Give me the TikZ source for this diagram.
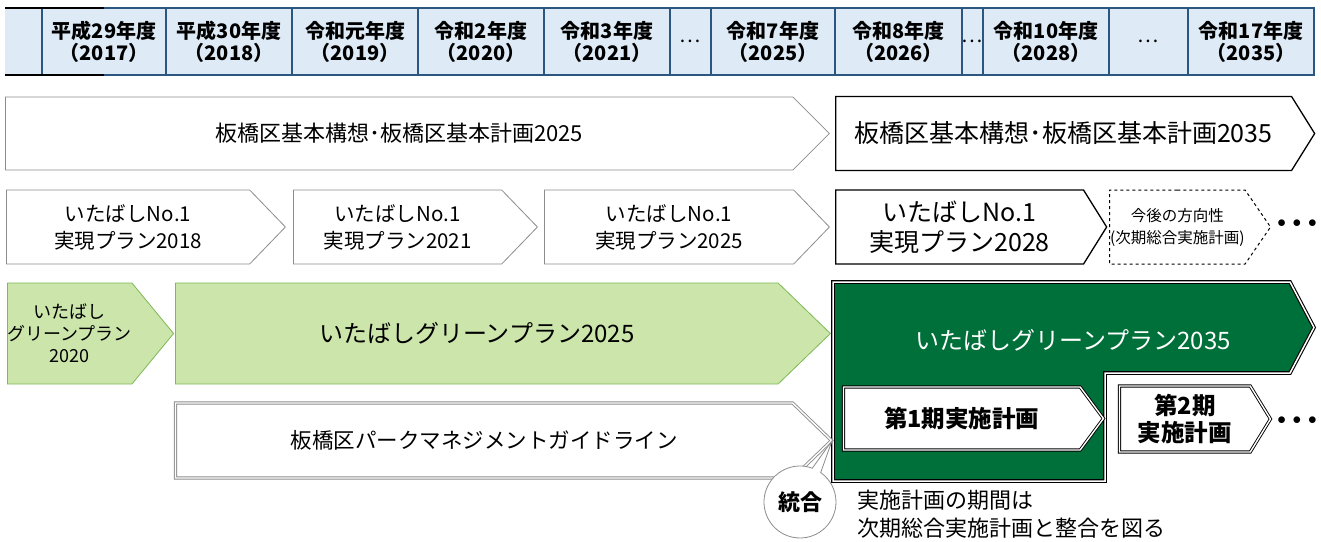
\documentclass[tikz,border=0pt]{standalone}
\usepackage{fontspec}
\setmainfont{Noto Sans CJK JP}
\usetikzlibrary{shapes.symbols,shapes.callouts}
\definecolor{hdfill}{HTML}{DEEBF7}
\definecolor{hdline}{HTML}{2A5680}
\definecolor{lgfill}{HTML}{CBE5AA}
\definecolor{lgline}{HTML}{7DB955}
\definecolor{dkgreen}{HTML}{00703A}
\definecolor{gline}{HTML}{8C8C8C}
\newcommand\fsz[2]{\fontsize{#1}{#2}\selectfont}

\begin{document}
\begin{tikzpicture}
[x=1pt,y=-1pt
,yr/.style={draw=hdline,fill=hdfill,line width=1.2pt,minimum height=67pt,inner sep=0pt,align=center,font=\bfseries\fsz{20}{22}}
,pl/.style={signal,signal to=east,draw=gline,line width=0.8pt,fill=white,anchor=west,align=center,inner sep=0pt,font=\fsz{20.5}{27}}
,bk/.style={pl,draw=black,line width=1.3pt,font=\fsz{25}{30}}
,dsh/.style={pl,draw=black,line width=1pt,dashed,font=\fsz{15.5}{22}}
,lg/.style={pl,draw=lgline,fill=lgfill}
,db/.style={pl,draw=black,double=white,line width=0.9pt,double distance=1.4pt,font=\bfseries\fsz{23.5}{27}}
,dg/.style={db,draw=gline,font=\fsz{21.5}{27}}
,dots/.style={font=\bfseries\fsz{16}{16},inner sep=0pt}
]
\useasboundingbox (0,0) rectangle (1321,541);
\node[yr,draw=none,minimum width=37pt] (y0) at (23.5,41.5) {};
\node[yr,minimum width=124pt] (y17) at (104,41.5) {平成29年度\\（2017）};
\node[yr,minimum width=126pt] (y18) at (229,41.5) {平成30年度\\（2018）};
\node[yr,minimum width=126pt] (y19) at (355,41.5) {令和元年度\\（2019）};
\node[yr,minimum width=126pt] (y20) at (481,41.5) {令和2年度\\（2020）};
\node[yr,minimum width=126pt] (y21) at (607,41.5) {令和3年度\\（2021）};
\node[yr,minimum width=41pt,font=\fsz{20}{22}] (yd1) at (690.5,41.5) {…};
\node[yr,minimum width=124pt] (y25) at (773,41.5) {令和7年度\\（2025）};
\node[yr,minimum width=127pt] (y26) at (898.5,41.5) {令和8年度\\（2026）};
\node[yr,minimum width=21pt,font=\fsz{20}{22}] (yd2) at (972.5,41.5) {…};
\node[yr,minimum width=126pt] (y28) at (1046,41.5) {令和10年度\\（2028）};
\node[yr,minimum width=79pt,font=\fsz{20}{22}] (yd3) at (1148.5,41.5) {…};
\node[yr,minimum width=126pt] (y35) at (1251,41.5) {令和17年度\\（2035）};
\draw[line width=2pt] (5,8) -- (104,8);
\draw[line width=2pt] (5,75) -- (104,75);

\node[pl,signal pointer angle=90,minimum width=824pt,minimum height=73pt,font=\fsz{22}{27}] (k25) at (5,133.5) {板橋区基本構想･板橋区基本計画2025};
\node[bk,signal pointer angle=116,minimum width=479pt,minimum height=74pt] (k35) at (835,133.5) {板橋区基本構想･板橋区基本計画2035};

\node[pl,signal pointer angle=92,minimum width=279pt,minimum height=74pt] (n18) at (6,227) {いたばしNo.1\\実現プラン2018};
\node[pl,signal pointer angle=92,minimum width=244pt,minimum height=74pt] (n21) at (293,227) {いたばしNo.1\\実現プラン2021};
\node[pl,signal pointer angle=92,minimum width=285pt,minimum height=74pt] (n25) at (544,227) {いたばしNo.1\\実現プラン2025};
\node[bk,signal pointer angle=116,minimum width=271pt,minimum height=74pt] (n28) at (835,227) {いたばしNo.1\\実現プラン2028};
\node[dsh,signal pointer angle=111,minimum width=161pt,minimum height=74pt] (nx) at (1109,227) {今後の方向性\\(次期総合実施計画)};
\node[dots] (nd) at (1297,224) {$\bullet\,\bullet\,\bullet$};

\node[lg,signal pointer angle=101,minimum width=161pt,minimum height=101pt,font=\fsz{18}{22}] (g20) at (7,333.5) {いたばし\\グリーンプラン\\2020};
\node[lg,signal pointer angle=88,minimum width=655pt,minimum height=101pt,font=\fsz{24}{27}] (g25) at (175,333.5) {いたばしグリーンプラン2025};
\draw[draw=black,double=white,line width=1.1pt,double distance=1.5pt,fill=dkgreen] (833,282) -- (1290,282) -- (1314,327.5) -- (1290,373) -- (1105,373) -- (1105,481) -- (833,481) -- cycle;
\node[white,font=\fsz{24}{27}] (g35) at (1073,340) {いたばしグリーンプラン2035};
\node[db,signal pointer angle=107,minimum width=260pt,minimum height=63pt] (s1) at (843,418.5) {第1期実施計画};
\node[db,signal pointer angle=117,minimum width=151pt,minimum height=66pt] (s2) at (1119,419) {第2期\\実施計画};
\node[dots] (sd) at (1297,421) {$\bullet\,\bullet\,\bullet$};

\node[dg,signal pointer angle=88,minimum width=656pt,minimum height=75pt] (pk) at (175,440.5) {板橋区パークマネジメントガイドライン};
\node[ellipse callout,draw=gline,fill=white,line width=0.8pt,minimum width=72pt,minimum height=72pt,inner sep=0pt,callout absolute pointer={(pk.east)},font=\bfseries\fsz{22}{26}] (tg) at (800,502) {統合};
\node[anchor=west,align=left,inner sep=0pt,font=\fsz{22}{28}] (nt) at (857,514) {実施計画の期間は\\次期総合実施計画と整合を図る};
\end{tikzpicture}
\end{document}
